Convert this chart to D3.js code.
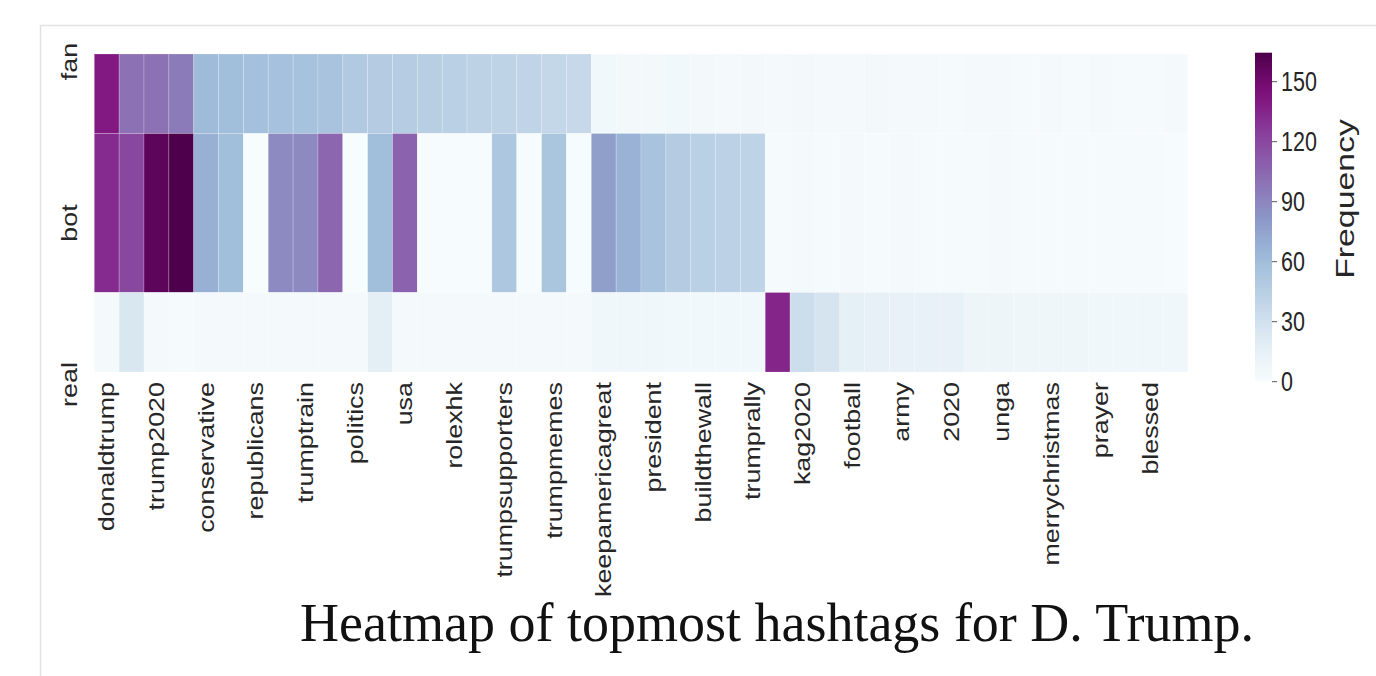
<!DOCTYPE html>
<html>
<head>
<meta charset="utf-8">
<script src="https://cdn.jsdelivr.net/npm/d3@7"></script>
<style>
  body { margin: 0; background: #fff; }
  svg { display: block; }
  text { font-family: "Liberation Sans", Arial, sans-serif; fill: #262626; }
</style>
</head>
<body>
<div id="chart"></div>
<script>
// rows of the heatmap (top to bottom)
var groups = ["fan", "bot", "real"];

// only every other column carries a label in the figure
var hashtagLabels = ["donaldtrump", "trump2020", "conservative", "republicans", "trumptrain",
  "politics", "usa", "rolexhk", "trumpsupporters", "trumpmemes", "keepamericagreat",
  "president", "buildthewall", "trumprally", "kag2020", "football", "army", "2020",
  "unga", "merrychristmas", "prayer", "blessed"];

// hashtag frequency per column (44 columns)
var fanValues = [140, 100, 100, 95, 62, 60, 58, 57, 56, 55, 50, 48, 47, 46, 44, 42, 41, 40, 38, 37,
  5, 4, 4, 5, 4, 3, 4, 3, 4, 3, 3, 4, 3, 3, 2, 3, 3, 2, 3, 2, 3, 2, 2, 3];
var botValues = [133, 120, 158, 164, 68, 60, 0, 88, 88, 105, 0, 60, 107, 1, 1, 1, 52, 1, 54, 1,
  78, 67, 55, 48, 44, 43, 41, 2, 3, 2, 3, 2, 3, 2, 2, 2, 3, 2, 2, 2, 2, 2, 2, 1];
var realValues = [3, 25, 3, 2, 3, 3, 3, 3, 3, 3, 3, 18, 3, 3, 3, 3, 3, 3, 3, 3,
  6, 6, 6, 5, 5, 5, 5, 135, 33, 27, 16, 15, 14, 14, 14, 9, 9, 8, 8, 8, 7, 7, 6, 6];

var colorTicks = [0, 30, 60, 90, 120, 150];
var vmax = 164.5;

var width = 1376, height = 676;
var seriesByGroup = { fan: fanValues, bot: botValues, real: realValues };
var nCols = fanValues.length;

// the figure is stretched vertically, text too
var stretch = 1.25;

var svg = d3.select("#chart").append("svg")
    .attr("width", width)
    .attr("height", height);

// faint frame of the page crop
svg.append("line").attr("x1", 40.5).attr("x2", 40.5).attr("y1", 25).attr("y2", height)
    .attr("stroke", "#e2e2e2").attr("stroke-width", 1.5);
svg.append("line").attr("x1", 40).attr("x2", width).attr("y1", 25.5).attr("y2", 25.5)
    .attr("stroke", "#e2e2e2").attr("stroke-width", 1.5);

var x = d3.scaleBand()
    .domain(d3.range(nCols))
    .range([94.3, 1187.7])
    .padding(0);

// bot row is twice as tall as the others in the figure
var rowUnits = { fan: [0, 1], bot: [1, 3], real: [3, 4] };
var y = d3.scaleLinear().domain([0, 4]).range([54, 372]);
var yLabel = d3.scalePoint().domain(groups).range([61.5, 384.5]);

// BuPu as a plain linear ramp through the 9 brewer colours (like matplotlib)
var color = d3.scaleSequential(d3.piecewise(d3.interpolateRgb, d3.schemeBuPu[9]))
    .domain([0, vmax]);

var cells = [];
groups.forEach(function(g) {
  seriesByGroup[g].forEach(function(v, i) {
    cells.push({ group: g, col: i, value: v });
  });
});

svg.append("g").selectAll("rect")
    .data(cells)
    .enter().append("rect")
    .attr("x", function(d) { return x(d.col); })
    .attr("y", function(d) { return y(rowUnits[d.group][0]); })
    .attr("width", x.bandwidth())
    .attr("height", function(d) { return y(rowUnits[d.group][1]) - y(rowUnits[d.group][0]); })
    .attr("fill", function(d) { return color(d.value); })
    .attr("stroke", "rgba(255,255,255,0.25)")
    .attr("stroke-width", 0.8);

// x tick labels, every second column
var fontSize = 21.5;
svg.append("g").selectAll("text")
    .data(hashtagLabels)
    .enter().append("text")
    .attr("transform", function(d, i) {
      var cx = x(i * 2) + x.bandwidth() / 2;
      return "translate(" + cx + ",382) scale(1," + stretch + ") rotate(-90)";
    })
    .attr("text-anchor", "end")
    .attr("dy", "0.35em")
    .style("font-size", fontSize + "px")
    .text(function(d) { return d; });

// y tick labels
svg.append("g").selectAll("text")
    .data(groups)
    .enter().append("text")
    .attr("transform", function(d) {
      return "translate(77," + yLabel(d) + ") scale(1," + stretch + ") rotate(-90)";
    })
    .attr("text-anchor", "middle")
    .style("font-size", fontSize + "px")
    .text(function(d) { return d; });

// colour bar
var cbX = 1255, cbW = 17;
var cbScale = d3.scaleLinear().domain([0, vmax]).range([381.7, 381.7 - vmax * 2]);

var defs = svg.append("defs");
var grad = defs.append("linearGradient")
    .attr("id", "cbGrad")
    .attr("x1", 0).attr("y1", 1).attr("x2", 0).attr("y2", 0);
grad.selectAll("stop")
    .data(d3.range(0, 1.0001, 0.05))
    .enter().append("stop")
    .attr("offset", function(t) { return t; })
    .attr("stop-color", function(t) { return color(t * vmax); });

svg.append("rect")
    .attr("x", cbX)
    .attr("y", cbScale(vmax))
    .attr("width", cbW)
    .attr("height", cbScale(0) - cbScale(vmax))
    .attr("fill", "url(#cbGrad)");

var cbTicks = svg.append("g").selectAll("g")
    .data(colorTicks)
    .enter().append("g")
    .attr("transform", function(d) { return "translate(" + (cbX + cbW) + "," + cbScale(d) + ")"; });
cbTicks.append("line")
    .attr("x1", 0).attr("x2", 5)
    .attr("stroke", "#555").attr("stroke-width", 1);
cbTicks.append("text")
    .attr("transform", "translate(9,0) scale(1," + stretch + ")")
    .attr("dy", "0.35em")
    .style("font-size", fontSize + "px")
    .text(function(d) { return d; });

svg.append("text")
    .attr("transform", "translate(1345,199) scale(1,1.3) rotate(-90)")
    .attr("text-anchor", "middle")
    .attr("dy", "0.35em")
    .style("font-size", "26px")
    .text("Frequency");

// caption under the figure
svg.append("text")
    .attr("x", 300)
    .attr("y", 641)
    .style("font-family", "'Liberation Serif', 'Times New Roman', serif")
    .style("font-size", "54px")
    .style("fill", "#111")
    .text("Heatmap of topmost hashtags for D. Trump.");
</script>
</body>
</html>
